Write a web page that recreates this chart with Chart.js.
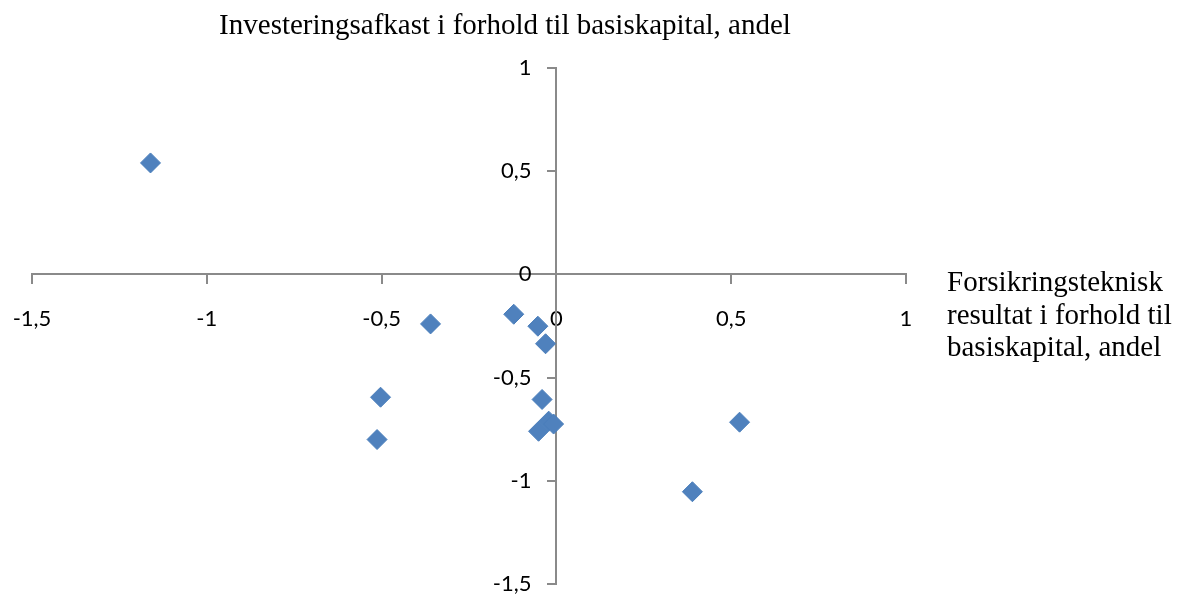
<!DOCTYPE html>
<html lang="da">
<head>
<meta charset="utf-8">
<title>Forsikringsteknisk resultat og investeringsafkast</title>
<script src="https://cdn.jsdelivr.net/npm/chart.js@4.4.1/dist/chart.umd.min.js"></script>
<style>
  html, body { margin: 0; padding: 0; background: #ffffff; }
  #wrap { width: 1178px; height: 595px; position: relative; }
</style>
</head>
<body>
<div id="wrap"><canvas id="chart" width="1178" height="595"></canvas></div>
<script>
// Forsikringsteknisk resultat (x) og investeringsafkast (y), begge i forhold til basiskapital
const forsikringsteknisk = [-1.161, -0.360, -0.122, -0.053, -0.031, -0.503, -0.513, -0.041, -0.022, -0.008, -0.051, 0.524, 0.389];
const investeringsafkast = [0.540, -0.240, -0.193, -0.251, -0.336, -0.595, -0.800, -0.606, -0.711, -0.725, -0.760, -0.716, -1.053];

const axisMin = -1.5;
const axisMax = 1;
const axisStep = 0.5;

const yTitle = 'Investeringsafkast i forhold til basiskapital, andel';
const xTitleLines = ['Forsikringsteknisk', 'resultat i forhold til', 'basiskapital, andel'];

const points = forsikringsteknisk.map((x, i) => ({ x: x, y: investeringsafkast[i] }));

const axisGrey = '#8a8a8a';
const tickFont = { family: 'Lato', size: 22 };
const formatTick = v => String(v).replace('.', ',');

// Crossing axes should not push the plot area inwards
const noEdgePadding = scale => {
  scale.paddingLeft = 0;
  scale.paddingRight = 0;
  scale.paddingTop = 0;
  scale.paddingBottom = 0;
};

// Y labels of an axis placed at x = 0 sit on the axis line; move them clear of the tick marks
const yLabelGap = 25;
const shiftYLabels = {
  id: 'shiftYLabels',
  beforeDraw(chart) {
    const items = chart.scales.y.getLabelItems();
    if (items._shifted) return;
    items.forEach(item => { item.options.translation[0] -= yLabelGap; });
    items._shifted = true;
  }
};

// Axis titles drawn as free text beside the crossing axes
const axisTitles = {
  id: 'axisTitles',
  afterDraw(chart) {
    const ctx = chart.ctx;
    ctx.save();
    ctx.fillStyle = '#000000';
    ctx.font = '29px "Liberation Serif", "Times New Roman", serif';
    ctx.textBaseline = 'alphabetic';
    ctx.textAlign = 'center';
    ctx.fillText(yTitle, 505, 34);
    ctx.textAlign = 'left';
    xTitleLines.forEach((line, i) => ctx.fillText(line, 947, 291 + i * 32.5));
    ctx.restore();
  }
};

new Chart(document.getElementById('chart'), {
  type: 'scatter',
  data: {
    datasets: [{
      data: points,
      pointStyle: 'rectRot',
      pointRadius: 10,
      pointHoverRadius: 10,
      backgroundColor: '#4f81bd',
      borderColor: '#4a7ebb',
      borderWidth: 1
    }]
  },
  options: {
    responsive: false,
    animation: false,
    events: [],
    layout: { padding: { left: 32, top: 68, right: 272, bottom: 10 } },
    plugins: {
      legend: { display: false },
      title: { display: false },
      tooltip: { enabled: false }
    },
    scales: {
      x: {
        type: 'linear',
        position: { y: 0 },
        min: axisMin,
        max: axisMax,
        afterFit: noEdgePadding,
        grid: { display: true, drawOnChartArea: false, drawTicks: true, tickLength: 9, color: axisGrey, lineWidth: 2 },
        border: { display: true, color: axisGrey, width: 2 },
        ticks: { stepSize: axisStep, color: '#000000', font: tickFont, padding: 22, maxRotation: 0, callback: formatTick }
      },
      y: {
        type: 'linear',
        position: { x: 0 },
        min: axisMin,
        max: axisMax,
        afterFit: noEdgePadding,
        grid: { display: true, drawOnChartArea: false, drawTicks: true, tickLength: 8, color: axisGrey, lineWidth: 2 },
        border: { display: true, color: axisGrey, width: 2 },
        ticks: { stepSize: axisStep, color: '#000000', font: tickFont, padding: 17, callback: formatTick }
      }
    }
  },
  plugins: [shiftYLabels, axisTitles]
});
</script>
</body>
</html>
